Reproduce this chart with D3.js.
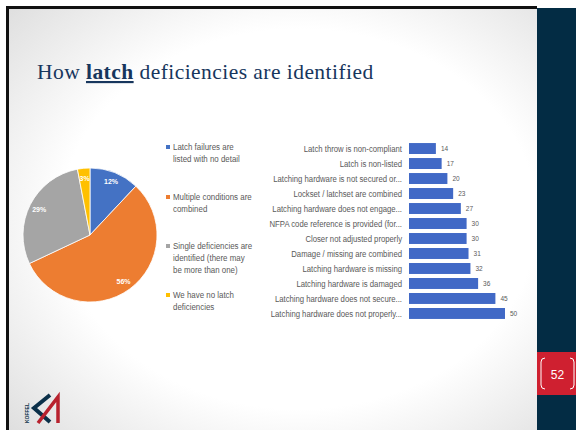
<!DOCTYPE html>
<html>
<head>
<meta charset="utf-8">
<script src="https://cdn.jsdelivr.net/npm/d3@7"></script>
<style>
  html, body { margin: 0; padding: 0; background: #fff; }
  svg { display: block; }
</style>
</head>
<body>
<svg id="chart" width="576" height="430"></svg>
<script>
'use strict'

// pie data
const pieLabels = [
  ['Latch failures are', 'listed with no detail'],
  ['Multiple conditions are', 'combined'],
  ['Single deficiencies are', 'identified (there may', 'be more than one)'],
  ['We have no latch', 'deficiencies']
]
const pieValues = [12, 56, 29, 3]
const pieColors = ['#4472c4', '#ed7d31', '#a5a5a5', '#ffc000']

// bar data, top to bottom
const barCategories = [
  'Latch throw is non-compliant',
  'Latch is non-listed',
  'Latching hardware is not secured or...',
  'Lockset / latchset are combined',
  'Latching hardware does not engage...',
  'NFPA code reference is provided (for...',
  'Closer not adjusted properly',
  'Damage / missing are combined',
  'Latching hardware is missing',
  'Latching hardware is damaged',
  'Latching hardware does not secure...',
  'Latching hardware does not properly...'
]
const barValues = [14, 17, 20, 23, 27, 30, 30, 31, 32, 36, 45, 50]

const svg = d3.select('#chart')
const defs = svg.append('defs')

// slide background
const grad = defs.append('radialGradient').attr('id', 'bg')
  .attr('cx', '55%').attr('cy', '50%').attr('r', '75%')
grad.append('stop').attr('offset', '60%').attr('stop-color', '#ffffff')
grad.append('stop').attr('offset', '100%').attr('stop-color', '#dedede')

svg.append('rect').attr('x', 0).attr('y', 0).attr('width', 576).attr('height', 430).attr('fill', '#fff')
svg.append('rect').attr('x', 8).attr('y', 8).attr('width', 529).attr('height', 422).attr('fill', 'url(#bg)')
svg.append('rect').attr('x', 6).attr('y', 6).attr('width', 531).attr('height', 3).attr('fill', '#111')
svg.append('rect').attr('x', 6).attr('y', 6).attr('width', 3).attr('height', 424).attr('fill', '#111')

// right panel
svg.append('rect').attr('x', 537).attr('y', 8).attr('width', 39).attr('height', 422).attr('fill', '#032c44')
svg.append('rect').attr('x', 537).attr('y', 352).attr('width', 39).attr('height', 43).attr('fill', '#cf2030')
svg.append('path')
  .attr('d', 'M545,358 Q541,358 541,362 L541,385 Q541,389 545,389 M570,358 Q574,358 574,362 L574,385 Q574,389 570,389')
  .attr('fill', 'none').attr('stroke', '#fff').attr('stroke-width', 1)
svg.append('text').attr('x', 557.5).attr('y', 379)
  .attr('text-anchor', 'middle')
  .style('font', '12px "Liberation Sans", Arial, sans-serif')
  .attr('fill', '#fff').text('52')

// title
const title = svg.append('text').attr('x', 37).attr('y', 79)
  .style('font-family', '"Liberation Serif", "DejaVu Serif", serif')
  .style('font-size', '21.5px')
  .style('letter-spacing', '0.45px')
  .attr('fill', '#17365d')
title.append('tspan').text('How ')
title.append('tspan').style('font-weight', 'bold').style('text-decoration', 'underline').text('latch')
title.append('tspan').text(' deficiencies are identified')

// pie
const cx = 90
const cy = 235
const radius = 67
const pie = d3.pie().sort(null).value((d) => d)
const arcs = pie(pieValues)
const arc = d3.arc().innerRadius(0).outerRadius(radius)
const labelArc = d3.arc().innerRadius(57).outerRadius(57)
const pieG = svg.append('g').attr('transform', `translate(${cx},${cy})`)

pieG.selectAll('path')
  .data(arcs)
  .enter()
  .append('path')
  .attr('d', arc)
  .attr('fill', (d, i) => pieColors[i])
  .attr('stroke', '#fff')
  .attr('stroke-width', 0.8)

pieG.selectAll('text')
  .data(arcs)
  .enter()
  .append('text')
  .attr('transform', (d) => `translate(${labelArc.centroid(d)})`)
  .attr('text-anchor', 'middle')
  .attr('dy', '0.35em')
  .style('font', 'bold 7px "Liberation Sans", Arial, sans-serif')
  .attr('fill', '#fff')
  .text((d) => d.data + '%')

// legend
const legendY = [150, 200, 249, 298]
const legend = svg.append('g')
pieLabels.forEach((lines, i) => {
  legend.append('rect')
    .attr('x', 166).attr('y', legendY[i] - 5)
    .attr('width', 4).attr('height', 4)
    .attr('fill', pieColors[i])
  const t = legend.append('text')
    .attr('transform', `translate(173,${legendY[i]}) scale(0.9,1)`)
    .style('font', '8.8px "Liberation Sans", Arial, sans-serif')
    .attr('fill', '#595959')
  lines.forEach((line, j) => {
    t.append('tspan').attr('x', 0).attr('dy', j ? 11.8 : 0).text(line)
  })
})

// bars
const x = d3.scaleLinear().domain([0, 50]).range([409, 505])
const y = d3.scaleBand().domain(barCategories).range([139, 323]).padding(0.27)
const barG = svg.append('g')

barG.selectAll('rect')
  .data(barValues)
  .enter()
  .append('rect')
  .attr('x', x(0))
  .attr('y', (d, i) => y(barCategories[i]))
  .attr('width', (d) => x(d) - x(0))
  .attr('height', y.bandwidth())
  .attr('fill', '#4169c6')

barG.selectAll('text.cat')
  .data(barCategories)
  .enter()
  .append('text')
  .attr('class', 'cat')
  .attr('transform', (d) => `translate(402,${y(d) + y.bandwidth() / 2}) scale(0.88,1)`)
  .attr('dy', '0.35em')
  .attr('text-anchor', 'end')
  .style('font', '8.8px "Liberation Sans", Arial, sans-serif')
  .attr('fill', '#595959')
  .text((d) => d)

barG.selectAll('text.val')
  .data(barValues)
  .enter()
  .append('text')
  .attr('class', 'val')
  .attr('x', (d) => x(d) + 5)
  .attr('y', (d, i) => y(barCategories[i]) + y.bandwidth() / 2)
  .attr('dy', '0.35em')
  .style('font', '6.5px "Liberation Sans", Arial, sans-serif')
  .attr('fill', '#595959')
  .text((d) => d)

// logo
const logo = svg.append('g')
logo.append('path')
  .attr('d', 'M50,395 L34,408 L50,422')
  .attr('fill', 'none').attr('stroke', '#0b3049').attr('stroke-width', 4)
logo.append('path')
  .attr('d', 'M38,423 L58,397 L58,423')
  .attr('fill', 'none').attr('stroke', '#b8222e').attr('stroke-width', 3.5)
logo.append('text')
  .attr('transform', 'translate(29,423) rotate(-90)')
  .style('font', 'bold 5px "Liberation Sans", Arial, sans-serif')
  .attr('fill', '#0b3049')
  .text('KOFFEL')
</script>
</body>
</html>
